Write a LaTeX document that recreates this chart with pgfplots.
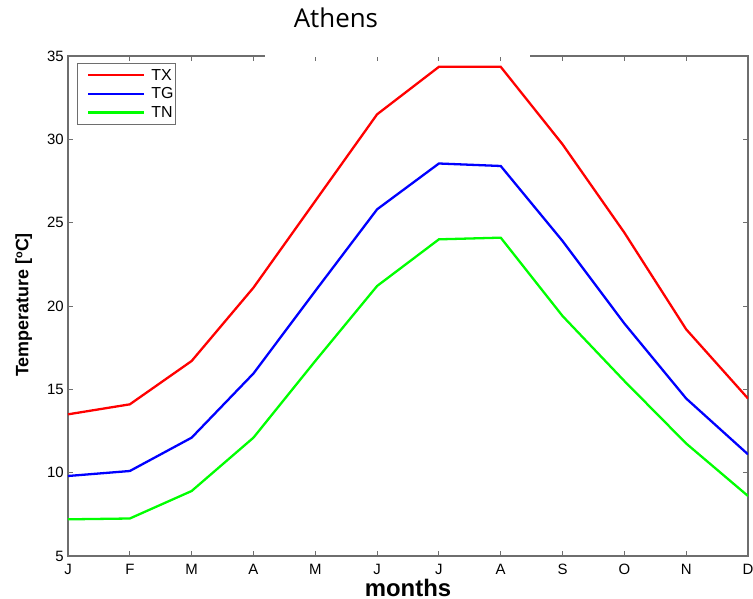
\documentclass[border=0pt]{standalone}
\usepackage{pgfplots}
\pgfplotsset{compat=1.18}
\usepackage{fontspec}
\setmainfont{Liberation Sans}
\newfontfamily\titlefont{Open Sans}
\definecolor{axgray}{RGB}{110,110,110}
\begin{document}
\begin{tikzpicture}
\begin{axis}[
  scale only axis,
  width=680bp, height=500bp,
  xmin=0, xmax=11, ymin=5, ymax=35,
  xtick={0,...,11},
  xticklabels={J,F,M,A,M,J,J,A,S,O,N,D},
  ytick={5,10,...,35},
  tick align=inside,
  major tick length=5bp,
  axis line style={axgray, line width=1.3pt},
  every tick/.style={axgray, line width=0.9pt},
  tick label style={font=\fontsize{15}{15}\selectfont},
  /pgf/number format/assume math mode=true,
  xticklabel style={inner sep=1bp, yshift=-7bp},
  yticklabel style={inner sep=2bp, xshift=-2bp},
  xlabel={\textbf{months}},
  xlabel style={font=\fontsize{24}{24}\selectfont, anchor=base, at={(axis description cs:0.5,-0.080)}},
  ylabel={\textbf{Temperature [\raisebox{0.65ex}{\fontsize{11}{11}\selectfont o}C]}},
  ylabel style={font=\fontsize{18}{18}\selectfont, anchor=center, at={(axis description cs:-0.065,0.502)}},
  title={\titlefont Athens},
  title style={font=\fontsize{26}{26}\selectfont, anchor=base, at={(axis description cs:0.394,1.046)}},
  legend style={at={(0.013,0.986)}, anchor=north west, draw=axgray, line width=1.1pt,
    font=\fontsize{16}{16}\selectfont, inner xsep=1bp, inner ysep=4bp, row sep=3bp,
    legend cell align=left, nodes={inner xsep=1bp, inner ysep=1.5bp}},
  legend image code/.code={\draw[white, line width=0.1pt] (0bp,0bp) -- (72bp,0bp); \draw[#1, line width=2.4pt] (10bp,0bp) -- (66bp,0bp);},
]
\addplot[red, line width=2.3pt] coordinates {(0,13.5)(1,14.1)(2,16.7)(3,21.1)(4,26.3)(5,31.5)(6,34.35)(7,34.35)(8,29.7)(9,24.4)(10,18.6)(11,14.45)};
\addlegendentry{TX}
\addplot[blue, line width=2.3pt] coordinates {(0,9.8)(1,10.1)(2,12.1)(3,15.95)(4,20.9)(5,25.8)(6,28.55)(7,28.4)(8,23.9)(9,18.95)(10,14.45)(11,11.1)};
\addlegendentry{TG}
\addplot[green, line width=2.3pt] coordinates {(0,7.2)(1,7.25)(2,8.9)(3,12.1)(4,16.7)(5,21.2)(6,24.0)(7,24.1)(8,19.4)(9,15.5)(10,11.75)(11,8.6)};
\addlegendentry{TN}
\coordinate (bl) at (rel axis cs:0,0);
\coordinate (tr) at (rel axis cs:1,1);
\coordinate (g1) at (rel axis cs:0.290,1);
\coordinate (g2) at (rel axis cs:0.679,1);
\end{axis}
\fill[white] ([yshift=-0.8bp]g1) rectangle ([yshift=3bp]g2);
\pgfresetboundingbox
\useasboundingbox ([shift={(-68bp,-43bp)}]bl) rectangle ([shift={(5bp,56bp)}]tr);
\end{tikzpicture}
\end{document}
